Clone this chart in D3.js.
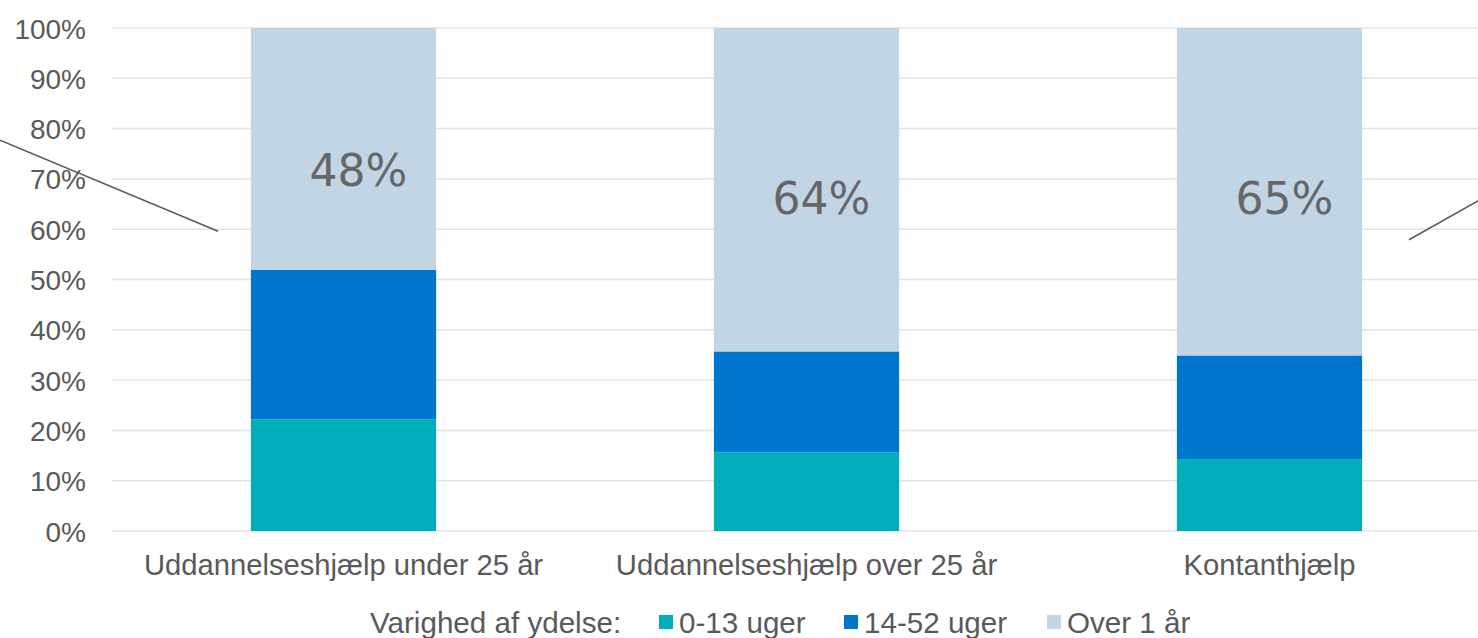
<!DOCTYPE html>
<html>
<head>
<meta charset="utf-8">
<script src="https://cdn.jsdelivr.net/npm/d3@7"></script>
<style>
  html, body { margin: 0; padding: 0; background: #fff; overflow: hidden; }
  svg { display: block; }
</style>
</head>
<body>
<svg id="chart" width="1478" height="638"></svg>
<script>
// ---- data ----
const categories = ["Uddannelseshjælp under 25 år", "Uddannelseshjælp over 25 år", "Kontanthjælp"];
const seriesNames = ["0-13 uger", "14-52 uger", "Over 1 år"];
const short = [22.2, 15.6, 14.3];      // 0-13 uger
const medium = [29.7, 20.1, 20.6];     // 14-52 uger
const long = [48.1, 64.3, 65.1];       // Over 1 år
const barLabels = ["48%", "64%", "65%"];
const labelPos = [71.6, 66.2, 66.2];   // label vertical position (%)
const yTicks = [0, 10, 20, 30, 40, 50, 60, 70, 80, 90, 100];
const legendTitle = "Varighed af ydelse:";
const colors = ["#00AEB9", "#0075CE", "#C2D5E4"];
// annotation leader lines (x in px, y in % of axis)
const leaderLines = [
  {x1: 0, y1: 77.7, x2: 218, y2: 59.6},
  {x1: 1409, y1: 57.9, x2: 1490, y2: 67.0}
];

// ---- chart ----
const svg = d3.select("#chart");
const font = "'Liberation Sans', Arial, sans-serif";

const x = d3.scaleBand().domain(categories).range([112, 1501]).paddingInner(0.6).paddingOuter(0.3);
const y = d3.scaleLinear().domain([0, 100]).range([531, 28]);

// gridlines
svg.append("g").selectAll("line").data(yTicks).join("line")
  .attr("x1", 112).attr("x2", 1478)
  .attr("y1", d => y(d)).attr("y2", d => y(d))
  .attr("stroke", "#e3e3e3").attr("stroke-width", 1.5);

// y axis
const yAxis = d3.axisLeft(y).tickValues(yTicks).tickFormat(d => d + "%").tickSize(0).tickPadding(0);
const ya = svg.append("g").attr("transform", "translate(86,0)").call(yAxis);
ya.select(".domain").remove();
ya.selectAll("text").attr("font-family", font).attr("font-size", 28).attr("fill", "#595959").attr("dy", "0.36em");

// stacked bars
const rows = categories.map((c, i) => ({cat: c, s0: short[i], s1: medium[i], s2: long[i]}));
const stack = d3.stack().keys(["s0", "s1", "s2"])(rows);
svg.append("g").selectAll("g").data(stack).join("g")
  .attr("fill", (d, i) => colors[i])
  .selectAll("rect").data(d => d).join("rect")
  .attr("x", d => x(d.data.cat))
  .attr("width", x.bandwidth())
  .attr("y", d => y(d[1]))
  .attr("height", d => y(d[0]) - y(d[1]));

// bar labels
svg.append("g").selectAll("text").data(categories).join("text")
  .attr("x", d => x(d) + x.bandwidth() / 2 + 15)
  .attr("y", (d, i) => y(labelPos[i]))
  .attr("text-anchor", "middle")
  .attr("dominant-baseline", "central")
  .attr("font-family", "'DejaVu Sans', Verdana, sans-serif")
  .attr("font-size", 44)
  .attr("fill", "#666666")
  .text((d, i) => barLabels[i]);

// x axis labels
const xAxis = d3.axisBottom(x).tickSize(0).tickPadding(0);
const xa = svg.append("g").attr("transform", "translate(0,553)").call(xAxis);
xa.select(".domain").remove();
xa.selectAll("text").attr("font-family", font).attr("font-size", 29.2).attr("fill", "#595959").attr("dy", "0.76em");

// leader lines
svg.append("g").selectAll("line").data(leaderLines).join("line")
  .attr("x1", d => d.x1).attr("x2", d => d.x2)
  .attr("y1", d => y(d.y1)).attr("y2", d => y(d.y2))
  .attr("stroke", "#595959").attr("stroke-width", 1.5);

// legend
const lg = svg.append("g");
const ly = 622;
const lfs = 29.6;
lg.append("text").attr("x", 370).attr("y", ly).attr("dominant-baseline", "central")
  .attr("font-family", font).attr("font-size", lfs).attr("fill", "#595959").text(legendTitle);
const legendX = [659, 844, 1047];
seriesNames.forEach((name, i) => {
  lg.append("rect").attr("x", legendX[i]).attr("y", ly - 7).attr("width", 14).attr("height", 14).attr("fill", colors[i]);
  lg.append("text").attr("x", legendX[i] + 20).attr("y", ly).attr("dominant-baseline", "central")
    .attr("font-family", font).attr("font-size", lfs).attr("fill", "#595959").text(name);
});
</script>
</body>
</html>
